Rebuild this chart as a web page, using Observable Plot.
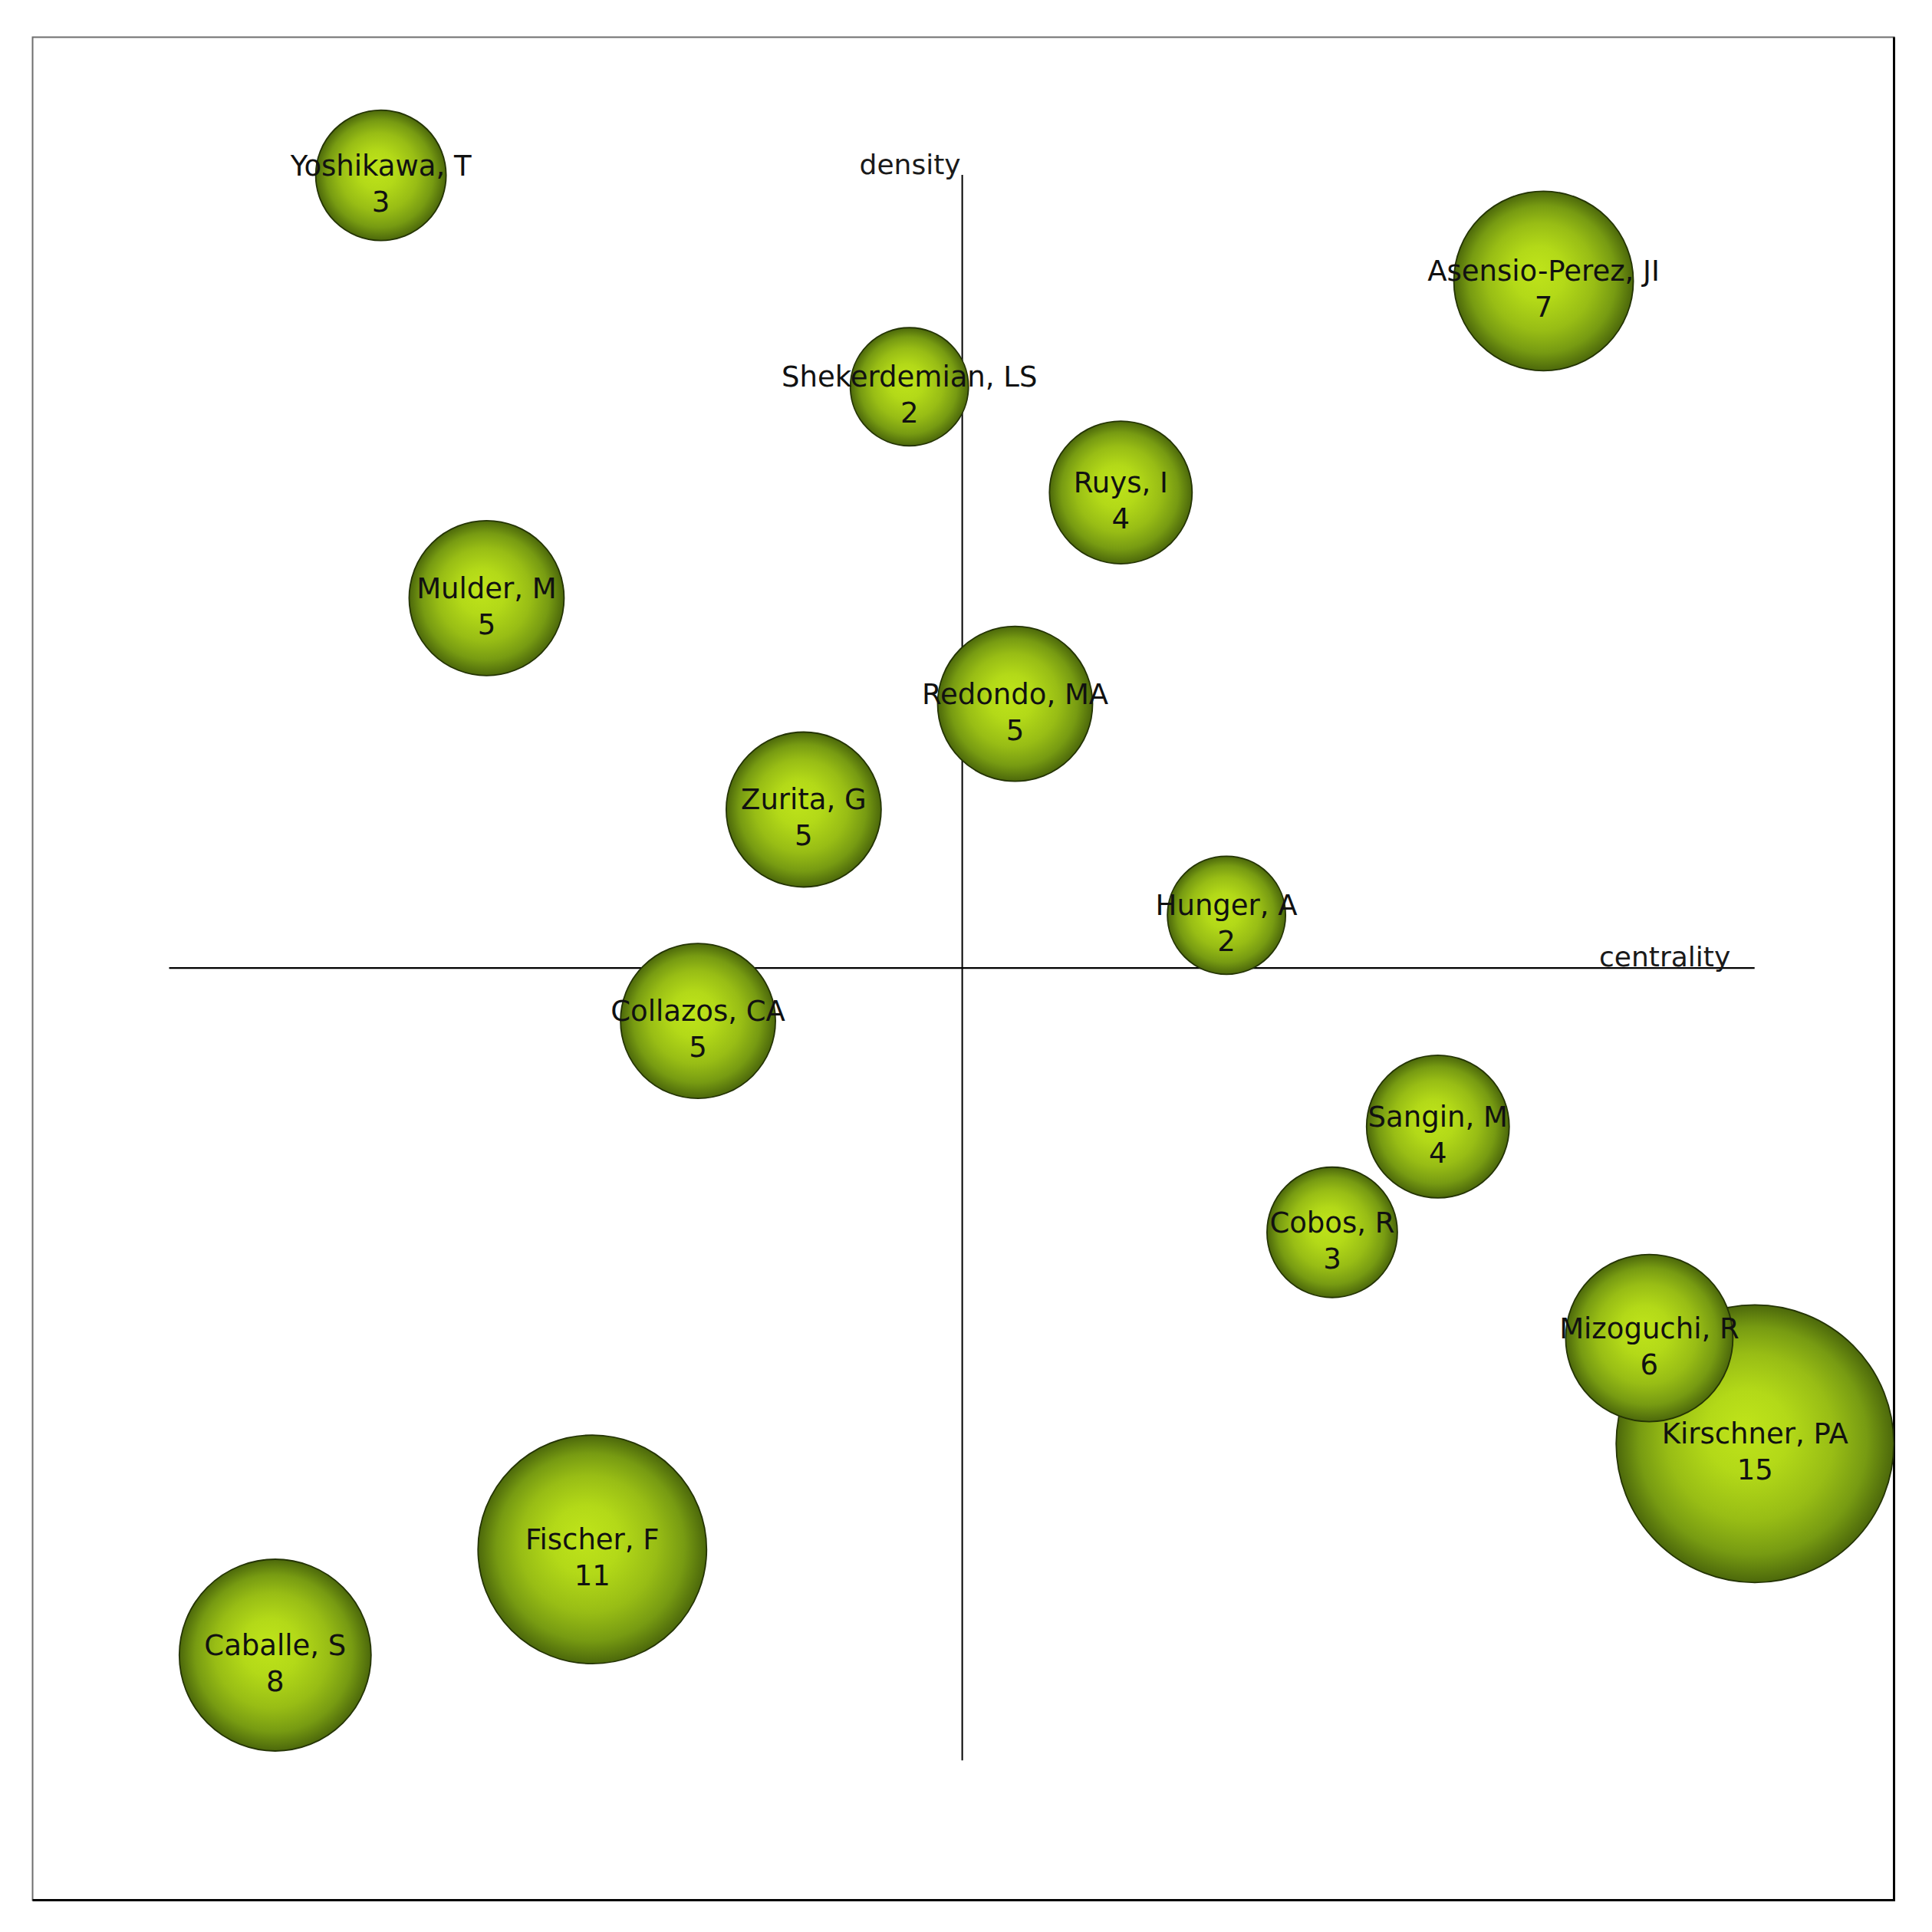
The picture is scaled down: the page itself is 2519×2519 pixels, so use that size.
<!DOCTYPE html>
<html>
<head>
<meta charset="utf-8">
<script src="https://cdn.jsdelivr.net/npm/d3@7"></script>
<script src="https://cdn.jsdelivr.net/npm/@observablehq/plot@0.6"></script>
<style>
  html, body { margin: 0; padding: 0; background: #ffffff; }
  #chart svg { display: block; }
</style>
</head>
<body>
<div id="chart"></div>
<script>
// ---- Data ----
const authors = [
  "Yoshikawa, T", "Asensio-Perez, JI", "Shekerdemian, LS", "Ruys, I", "Mulder, M",
  "Redondo, MA", "Zurita, G", "Hunger, A", "Collazos, CA", "Sangin, M",
  "Cobos, R", "Mizoguchi, R", "Kirschner, PA", "Fischer, F", "Caballe, S"
];
const documents = [3, 7, 2, 4, 5, 5, 5, 2, 5, 4, 3, 6, 15, 11, 8];
const centrality = [2, 13, 7, 9, 3, 8, 6, 10, 5, 12, 11, 14, 15, 4, 1];
const density    = [15, 14, 13, 12, 11, 10, 9, 8, 7, 6, 5, 4, 3, 2, 1];

const axisExtent = [0, 15];
const axisCross = 7.5;
const axisTitles = ["density", "centrality"];

// ---- Tables built from the arrays ----
const data = authors.map((name, i) => ({
  name, docs: documents[i], c: centrality[i], d: density[i]
}));
const bubbles = data.slice().sort((a, b) => b.docs - a.docs);
const titles = [
  {t: axisTitles[0], x: axisCross, y: axisExtent[1]},
  {t: axisTitles[1], x: axisExtent[1], y: axisCross}
];

const W = 2519, H = 2519;
const mL = 42, mT = 48, mR = 50, mB = 42;
const frameW = W - mL - mR, frameH = H - mT - mB;

const font = "DejaVu Sans, Verdana, sans-serif";

const defsMark = () => {
  const defs = d3.create("svg:defs");
  const g = defs.append("radialGradient")
    .attr("id", "ball")
    .attr("cx", "50%").attr("cy", "50%").attr("r", "50%")
    .attr("fx", "46%").attr("fy", "44%");
  g.append("stop").attr("offset", "0%").attr("stop-color", "#bfe41a");
  g.append("stop").attr("offset", "30%").attr("stop-color", "#b3d918");
  g.append("stop").attr("offset", "60%").attr("stop-color", "#98bd15");
  g.append("stop").attr("offset", "82%").attr("stop-color", "#779b12");
  g.append("stop").attr("offset", "100%").attr("stop-color", "#4c680b");
  return defs.node();
};

const chart = Plot.plot({
  width: W,
  height: H,
  marginLeft: mL, marginTop: mT, marginRight: mR, marginBottom: mB,
  style: {fontFamily: font, background: "#ffffff", overflow: "visible"},
  x: {domain: axisExtent, range: [220.5, 2287.7], axis: null},
  y: {domain: axisExtent, range: [2295.3, 228.1], axis: null},
  r: {type: "linear", domain: [2, 15], range: [77, 181]},
  marks: [
    defsMark,
    Plot.frame({stroke: "#6e6e6e", strokeWidth: 2}),
    Plot.frame({stroke: "#000000", strokeWidth: 3,
      strokeDasharray: `0 ${frameW} ${frameW + frameH} ${frameH}`}),
    Plot.ruleY([axisCross], {x1: axisExtent[0], x2: axisExtent[1], stroke: "#000", strokeWidth: 2.2}),
    Plot.ruleX([axisCross], {y1: axisExtent[0], y2: axisExtent[1], stroke: "#000", strokeWidth: 2}),
    Plot.dot(bubbles, {
      x: "c", y: "d", r: "docs",
      fill: "url(#ball)", stroke: "#243404", strokeWidth: 1.8
    }),
    Plot.text(bubbles, {
      x: "c", y: "d", text: "name",
      lineAnchor: "bottom", textAnchor: "middle",
      fontSize: 37, fontFamily: font, fill: "#111"
    }),
    Plot.text(bubbles, {
      x: "c", y: "d", text: d => String(d.docs),
      lineAnchor: "bottom", textAnchor: "middle", dy: 47,
      fontSize: 37, fontFamily: font, fill: "#111"
    }),
    Plot.text(titles.slice(0, 1), {
      x: "x", y: "y", text: "t",
      lineAnchor: "bottom", textAnchor: "end", dx: -2, dy: -2,
      fontSize: 36, fontFamily: font, fill: "#1a1a1a"
    }),
    Plot.text(titles.slice(1), {
      x: "x", y: "y", text: "t",
      lineAnchor: "bottom", textAnchor: "end", dx: -32, dy: -2,
      fontSize: 36, fontFamily: font, fill: "#1a1a1a"
    })
  ]
});

document.getElementById("chart").appendChild(chart);
</script>
</body>
</html>
